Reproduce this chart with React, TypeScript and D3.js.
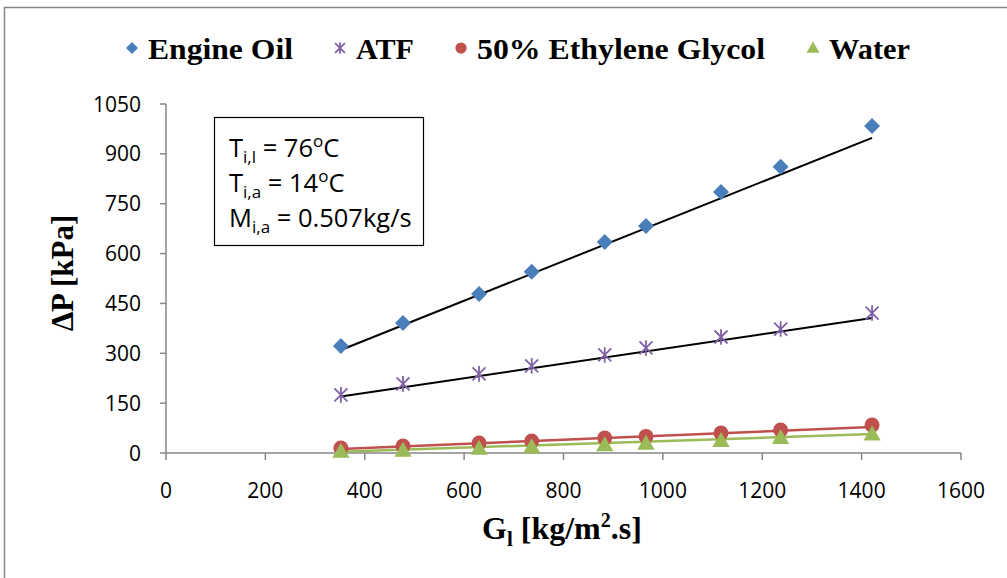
import React from 'react'
import * as d3 from 'd3'

// liquid mass flux G_l [kg/m2.s]
const flowRates = [352, 477, 630, 736, 883, 966, 1117, 1237, 1421]
// pressure drop dP [kPa]
const engineOil = [322, 391, 478, 545, 635, 683, 785, 861, 984]
const atf = [175, 208, 238, 262, 295, 316, 349, 373, 421]
const ethyleneGlycol = [15, 21, 30, 36, 45, 50, 60, 69, 84]
const water = [4, 7, 13, 17, 23, 28, 36, 45, 56]

// trend line end points
const fitRange = [352, 1421]
const engineOilFit = [310, 948]
const atfFit = [170, 406]
const glycolFit = [12, 78]
const waterFit = [4, 57]

const xTicks = [0, 200, 400, 600, 800, 1000, 1200, 1400, 1600]
const yTicks = [0, 150, 300, 450, 600, 750, 900, 1050]

const legendNames = ['Engine Oil', 'ATF', '50% Ethylene Glycol', 'Water']

const BLUE = '#4A7EBB'
const PURPLE = '#7F62A6'
const RED = '#C0504D'
const GREEN = '#9BBB59'
const AXIS = '#868686'

const x = d3.scaleLinear().domain([0, 1600]).range([166, 961])
const y = d3.scaleLinear().domain([0, 1050]).range([453, 104])

const starPath = (s: number) =>
  `M${-s},${-s}L${s},${s}M${-s},${s}L${s},${-s}M0,${-s * 1.2}L0,${s * 1.2}`

const diamondPath = (s: number) => `M0,${-s}L${s},0L0,${s}L${-s},0Z`

function Marker({ kind, cx, cy, small }: { kind: number; cx: number; cy: number; small?: boolean }) {
  const k = small ? 0.75 : 1
  if (kind === 0) {
    return <path d={diamondPath(8 * k)} transform={`translate(${cx},${cy})`} fill={BLUE} />
  }
  if (kind === 1) {
    return (
      <path d={starPath(6.5 * k)} transform={`translate(${cx},${cy})`}
        stroke={PURPLE} strokeWidth={1.8} fill="none" />
    )
  }
  if (kind === 2) {
    return <circle cx={cx} cy={cy} r={7.5 * k} fill={RED} />
  }
  const d = d3.symbol(d3.symbolTriangle, 130 * k * k)()
  return <path d={d!} transform={`translate(${cx},${cy + 1})`} fill={GREEN} />
}

export default function App() {
  const series = [engineOil, atf, ethyleneGlycol, water]
  const fits = [
    { v: engineOilFit, c: '#000', w: 2 },
    { v: atfFit, c: '#000', w: 2 },
    { v: glycolFit, c: RED, w: 2.5 },
    { v: waterFit, c: GREEN, w: 2.5 },
  ]
  const line = d3.line<[number, number]>()
    .x(d => x(d[0]))
    .y(d => y(d[1]))

  const legendX = [132, 340, 461, 813]
  const legendLen = [145, 58, 288, 81]
  const serif = '"Liberation Serif", "Times New Roman", serif'
  const sans = '"Open Sans", "Liberation Sans", sans-serif'

  return (
    <svg width={1007} height={578} style={{ position: 'absolute', left: 0, top: 0 }}>
      <rect x={0} y={0} width={1007} height={578} fill="#fff" />
      <rect x={4.5} y={7.5} width={1010} height={590} fill="none" stroke={AXIS} strokeWidth={1.5} />

      {/* legend */}
      {legendNames.map((name, i) => (
        <g key={name}>
          <Marker kind={i} cx={legendX[i]} cy={48} small />
          <text x={legendX[i] + 16} y={59} fontFamily={serif} fontWeight="bold" fontSize={30}
            textLength={legendLen[i]} lengthAdjust="spacingAndGlyphs">
            {name}
          </text>
        </g>
      ))}

      {/* axes */}
      <line x1={166} x2={166} y1={y(1050)} y2={y(0)} stroke={AXIS} strokeWidth={1.5} />
      <line x1={166} x2={961} y1={y(0)} y2={y(0)} stroke={AXIS} strokeWidth={1.5} />
      {yTicks.map(t => (
        <g key={'y' + t}>
          <line x1={160} x2={166} y1={y(t)} y2={y(t)} stroke={AXIS} strokeWidth={1.5} />
          <text x={141} y={y(t) + 7.5} textAnchor="end" fontFamily={sans} fontSize={21}>{t}</text>
        </g>
      ))}
      {xTicks.map(t => (
        <g key={'x' + t}>
          <line x1={x(t)} x2={x(t)} y1={453} y2={460} stroke={AXIS} strokeWidth={1.5} />
          <text x={x(t)} y={498} textAnchor="middle" fontFamily={sans} fontSize={21}>{t}</text>
        </g>
      ))}

      {/* axis titles */}
      <text x={482} y={539} fontFamily={serif} fontWeight="bold" fontSize={32}>
        G<tspan fontSize={21} dy={7}>l</tspan>
        <tspan dy={-7}> [kg/m</tspan>
        <tspan fontSize={20} dy={-12}>2</tspan>
        <tspan dy={12}>.s]</tspan>
      </text>
      <text transform="translate(73,273) rotate(-90)" textAnchor="middle"
        fontFamily={serif} fontWeight="bold" fontSize={31}>
        ΔP [kPa]
      </text>

      {/* annotation box */}
      <rect x={214.5} y={117.5} width={209} height={128} fill="#fff" stroke="#000" strokeWidth={1.2} />
      <text x={229} y={157} fontFamily={sans} fontSize={25.5}>
        T<tspan fontSize={17} dy={6}>i,l</tspan>
        <tspan dy={-6}> = 76</tspan>
        <tspan fontSize={17} dy={-10}>o</tspan>
        <tspan dy={10}>C</tspan>
      </text>
      <text x={229} y={192} fontFamily={sans} fontSize={25.5}>
        T<tspan fontSize={17} dy={6}>i,a</tspan>
        <tspan dy={-6}> = 14</tspan>
        <tspan fontSize={17} dy={-10}>o</tspan>
        <tspan dy={10}>C</tspan>
      </text>
      <text x={229} y={227} fontFamily={sans} fontSize={25.5}>
        M<tspan fontSize={17} dy={6}>i,a</tspan>
        <tspan dy={-6}> = 0.507kg/s</tspan>
      </text>

      {/* trend lines */}
      {fits.map((f, i) => (
        <path key={'f' + i}
          d={line(fitRange.map((g, j) => [g, f.v[j]] as [number, number]))!}
          stroke={f.c} strokeWidth={f.w} fill="none" />
      ))}

      {/* data points */}
      {series.map((vals, i) => (
        <g key={'s' + i}>
          {vals.map((v, j) => (
            <Marker key={j} kind={i} cx={x(flowRates[j])} cy={y(v)} />
          ))}
        </g>
      ))}
    </svg>
  )
}
